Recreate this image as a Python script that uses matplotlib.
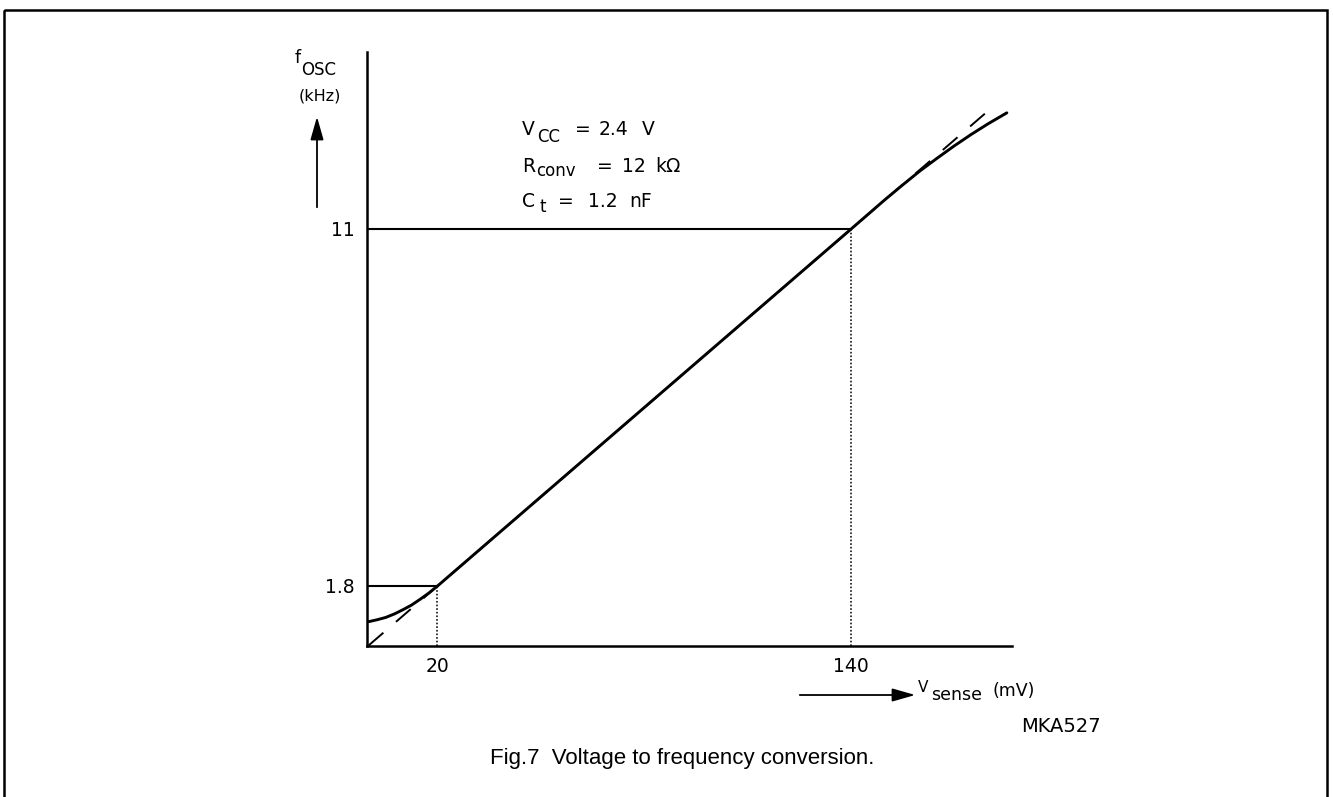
import matplotlib
matplotlib.use('Agg')
import matplotlib.pyplot as plt
from matplotlib.patches import Rectangle

plt.rcParams['font.family'] = ['DejaVu Sans']
plt.rcParams['mathtext.fontset'] = 'dejavusans'
plt.rcParams['lines.scale_dashes'] = False

# measured curve f_osc (kHz) vs V_sense (mV)
v_sense = [0, 2.5, 5, 7.5, 10, 12.5, 15, 17.5, 20, 140, 150, 155, 160, 165, 170, 175, 180, 185.4]
f_osc = [0.88, 0.93, 0.99, 1.08, 1.19, 1.31, 1.46, 1.62, 1.8, 11.0,
         11.77, 12.14, 12.50, 12.83, 13.15, 13.45, 13.73, 14.01]

# ideal linear characteristic (dashed)
ideal_v = [0, 179.3]
ideal_f = [0.267, 14.01]

# marked operating points
mark_v = [20, 140]
mark_f = [1.8, 11.0]
mark_labels_x = ['20', '140']
mark_labels_y = ['1.8', '11']

W, H = 1333, 797
fig = plt.figure(figsize=(W / 100, H / 100), dpi=100)

# page overlay in pixel coordinates
bg = fig.add_axes([0, 0, 1, 1])
bg.set_xlim(0, W)
bg.set_ylim(H, 0)
bg.axis('off')
bg.add_patch(Rectangle((4, 10), 1323, 800, fill=False, lw=1.8, ec='black'))

# data axes
x0, x1, y0, y1 = 367, 1012, 646, 52
ax = fig.add_axes([x0 / W, 1 - y0 / H, (x1 - x0) / W, (y0 - y1) / H])
ax.set_xlim(-0.48, 186.9)
ax.set_ylim(0.252, 15.58)
for s in ['top', 'right']:
    ax.spines[s].set_visible(False)
for s in ['left', 'bottom']:
    ax.spines[s].set_linewidth(1.8)
ax.set_xticks([])
ax.set_yticks([])
ax.patch.set_alpha(0)

ax.plot(ideal_v, ideal_f, color='black', lw=1.4, ls=(0, (14, 12)))
ax.plot(v_sense, f_osc, color='black', lw=2.1, solid_capstyle='round', solid_joinstyle='round')

# guide lines
for v, f in zip(mark_v, mark_f):
    ax.plot([0, v], [f, f], color='black', lw=1.5)
    ax.plot([v, v], [0.252, f], color='black', lw=1.1, ls=(0, (1.2, 1.4)))

for v, lab in zip(mark_v, mark_labels_x):
    bg.text(ax.transData.transform((v, 0))[0], 667, lab, ha='center', va='center', fontsize=13.5)
for f, lab in zip(mark_f, mark_labels_y):
    px = ax.transData.transform((0, f))[1]
    bg.text(355, H - px + 1, lab, ha='right', va='center', fontsize=13.5)


def piece(x, y, s, size=13.5):
    bg.text(x, y, s, fontsize=size, va='baseline', ha='left')


# conditions
piece(522, 135, 'V')
piece(537, 142, 'CC', 12)
piece(575, 135, '=')
piece(599, 135, '2.4')
piece(642, 135, 'V')

piece(522, 172, 'R')
piece(536, 176, 'conv', 12)
piece(597, 172, '=')
piece(622, 172, '12')
piece(655, 172, 'kΩ')

piece(522, 207, 'C')
piece(539, 212, 't', 12)
piece(558, 207, '=')
piece(588, 207, '1.2')
piece(629, 207, 'nF')

# y label and arrow
piece(295, 63, 'f', 12.5)
piece(301, 75, 'OSC', 12)
bg.text(320, 96, '(kHz)', fontsize=11.5, ha='center', va='center')
bg.annotate('', xy=(317, 114), xytext=(317, 210),
            arrowprops=dict(arrowstyle='-|>,head_length=1.4,head_width=0.4', color='black', lw=1.3))

# x label and arrow
bg.annotate('', xy=(918, 695), xytext=(797, 695),
            arrowprops=dict(arrowstyle='-|>,head_length=1.4,head_width=0.4', color='black', lw=1.3))
piece(918, 692, 'V', 11)
piece(931, 700, 'sense', 12.5)
piece(993, 696, '(mV)', 12.5)

bg.text(1101, 732, 'MKA527', fontsize=14, ha='right', va='baseline')

bg.text(682, 764, 'Fig.7  Voltage to frequency conversion.', fontsize=16,
        family='Liberation Sans', ha='center', va='baseline')

fig.savefig('out.png', dpi=100)
